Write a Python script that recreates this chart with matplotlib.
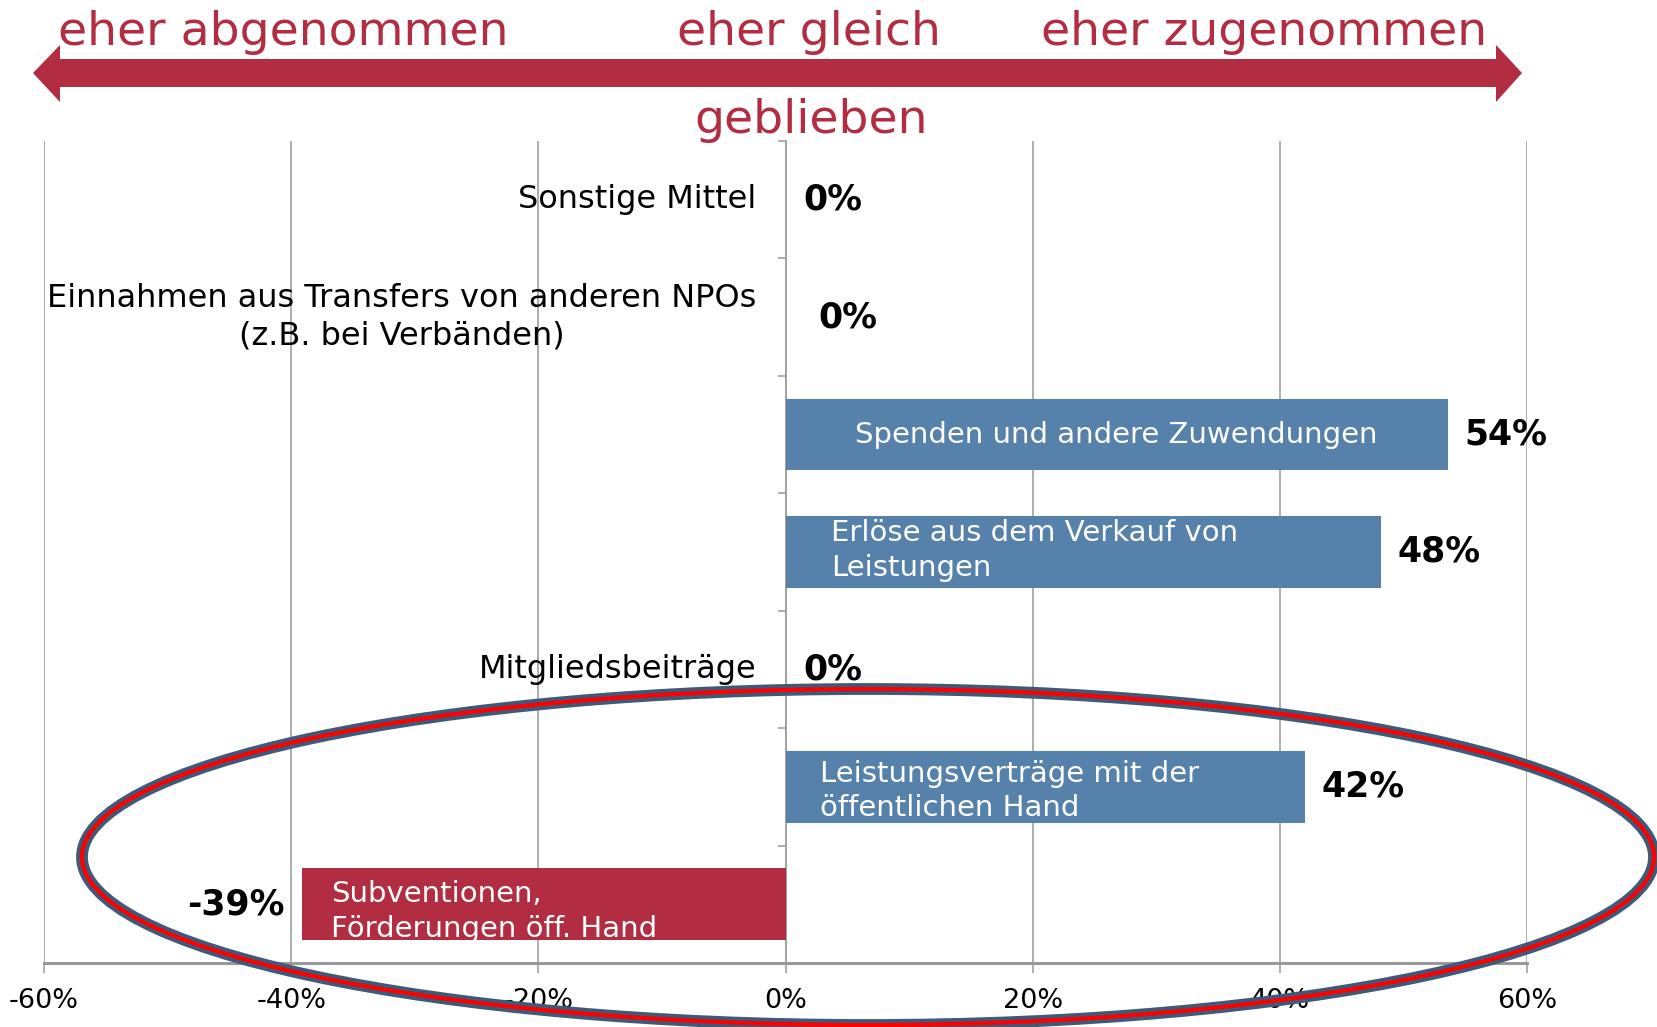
import matplotlib
matplotlib.use("Agg")
import matplotlib.pyplot as plt
from matplotlib.patches import Ellipse, Polygon

# Daten
kategorien = [
    "Sonstige Mittel",
    "Einnahmen aus Transfers von anderen NPOs\n(z.B. bei Verbänden)",
    "Spenden und andere Zuwendungen",
    "Erlöse aus dem Verkauf von\nLeistungen",
    "Mitgliedsbeiträge",
    "Leistungsverträge mit der\nöffentlichen Hand",
    "Subventionen,\nFörderungen öff. Hand",
]
werte = [0, 0, 53.6, 48.2, 0, 42.0, -39.1]
wert_labels = ["0%", "0%", "54%", "48%", "0%", "42%", "-39%"]
x_ticks = [-60, -40, -20, 0, 20, 40, 60]
x_ticklabels = ["-60%", "-40%", "-20%", "0%", "20%", "40%", "60%"]

blau = "#5581AB"
rot = "#B22D41"
grau = "#A0A0A0"

plt.rcParams["font.family"] = "DejaVu Sans"

W, H = 1657, 1027
fig = plt.figure(figsize=(W / 100, H / 100), dpi=100)

# Hauptdiagramm
ax = fig.add_axes([44 / W, 1 - 963 / H, (1527 - 44) / W, (963 - 141) / H])
ax.set_xlim(-60, 60)
ax.set_ylim(len(kategorien) - 0.5, -0.5)

y = list(range(len(kategorien)))
farben = [rot if v < 0 else blau for v in werte]
bars = ax.barh(y, werte, height=0.61, color=farben, zorder=3)

# Gitter und Achsen
ax.set_xticks(x_ticks)
ax.set_xticklabels(x_ticklabels, fontsize=19.5)
ax.xaxis.grid(True, color=grau, lw=1.2, zorder=0)
ax.tick_params(axis="x", length=7, width=1.2, color=grau, pad=11)
ax.set_yticks([i - 0.5 for i in range(len(kategorien))])
ax.set_yticklabels([])
ax.tick_params(axis="y", length=6, width=1.2, color=grau)
for s in ["top", "right"]:
    ax.spines[s].set_visible(False)
ax.spines["left"].set_position(("data", 0))
ax.spines["left"].set_color(grau)
ax.spines["left"].set_linewidth(1.2)
ax.spines["bottom"].set_color("#999999")
ax.spines["bottom"].set_linewidth(2.2)

# Beschriftungen
wert_offset = [13, 24, 12, 12, 13, 12, -13]
innen_offset = [0, 0, 0, 33, 0, 25, 21]
innen_dy = [0, 0, 0, 1, 0, -3, -5]
for i, (v, name, lab) in enumerate(zip(werte, kategorien, wert_labels)):
    if v == 0:
        ax.annotate(name, (0, i), xytext=(-21, 0), textcoords="offset points",
                    ha="right", va="center", fontsize=23, multialignment="center",
                    linespacing=1.27)
        ax.annotate(lab, (0, i), xytext=(wert_offset[i], 0), textcoords="offset points",
                    ha="left", va="center", fontsize=25, fontweight="bold")
    else:
        ha = "left" if v > 0 else "right"
        ax.annotate(lab, (v, i), xytext=(wert_offset[i], 0), textcoords="offset points",
                    ha=ha, va="center", fontsize=25, fontweight="bold")
        if i == 2:
            t = ax.text(v / 2, i, name, ha="center", va="center",
                        fontsize=21, color="white", zorder=4)
        else:
            start = min(v, 0)
            t = ax.annotate(name, (start, i), xytext=(innen_offset[i], innen_dy[i]),
                            textcoords="offset points", ha="left", va="center",
                            fontsize=21, color="white", linespacing=1.3, zorder=4)
        t.set_clip_path(bars[i])

# Overlay: Pfeil, Überschriften, Ellipse
ov = fig.add_axes([0, 0, 1, 1], facecolor="none")
ov.set_xlim(0, W)
ov.set_ylim(H, 0)
ov.axis("off")

pfeil = Polygon([(33, 73), (60, 45), (60, 59), (1496, 59), (1496, 45), (1522, 73),
                 (1496, 102), (1496, 87), (60, 87), (60, 102)],
                closed=True, color=rot, lw=0)
ov.add_patch(pfeil)

ov.text(58, 45, "eher abgenommen", fontsize=34, color=rot, va="baseline", ha="left")
ov.text(677, 45, "eher gleich", fontsize=34, color=rot, va="baseline", ha="left")
ov.text(1041, 45, "eher zugenommen", fontsize=34, color=rot, va="baseline", ha="left")
ov.text(694, 133, "geblieben", fontsize=34, color=rot, va="baseline", ha="left")

ov.add_patch(Ellipse((868, 857), 1572, 336, fill=False, ec="#3D5A78", lw=8.5))
ov.add_patch(Ellipse((868, 857), 1572, 336, fill=False, ec="#FF0000", lw=3))

fig.savefig("out.png", dpi=100)
